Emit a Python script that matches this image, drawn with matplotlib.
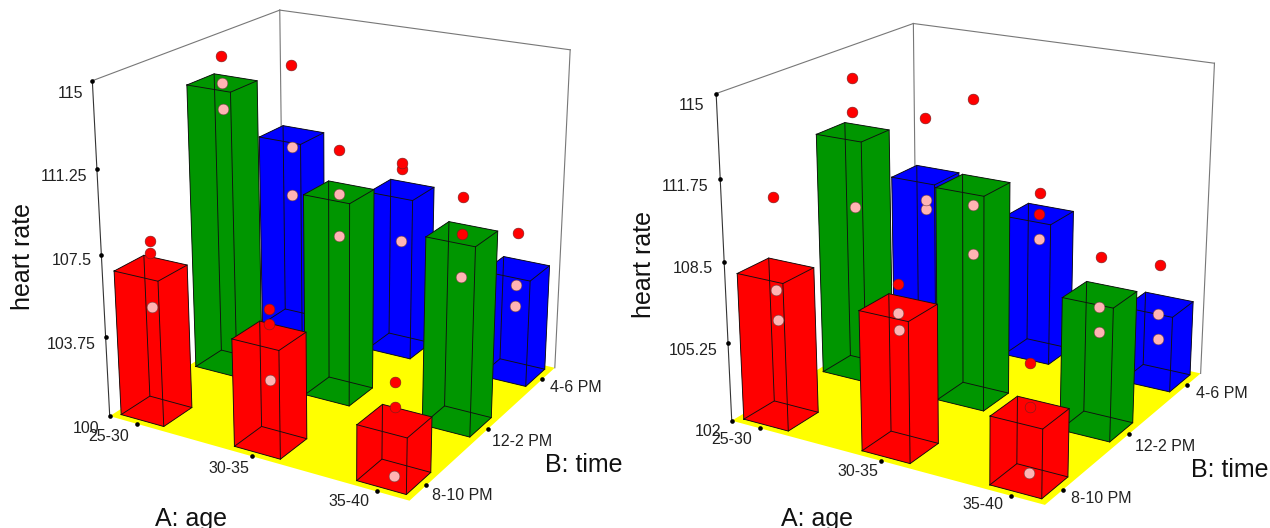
import numpy as np, matplotlib
matplotlib.use('Agg')
import matplotlib.pyplot as plt
from mpl_toolkits.mplot3d.art3d import Poly3DCollection

plt.rcParams['font.family'] = ['Liberation Sans', 'DejaVu Sans']

age_labels = ['25-30', '30-35', '35-40']
time_labels = ['8-10 PM', '12-2 PM', '4-6 PM']

left_ticks = [100, 103.75, 107.5, 111.25, 115]
left_tick_labels = ['100', '103.75', '107.5', '111.25', '115']
left_bars = [[106.7, 113.4, 109.5], [104.9, 109.4, 107.8], [102.5, 108.6, 105.1]]
left_above = [[[107.9, 107.4], [114.6], [112.9]],
              [[106.1, 105.4], [111.3], [109.1, 108.8]],
              [[104.2, 103.1], [110.2, 108.6], [106.8]]]
left_below = [[[104.9], [113.4, 112.2], [108.9, 106.5]],
              [[102.9], [109.3, 107.4], [105.3]],
              [[100.0], [106.7], [104.3, 103.3]]]

right_ticks = [102, 105.25, 108.5, 111.75, 115]
right_tick_labels = ['102', '105.25', '108.5', '111.75', '115']
right_bars = [[108.0, 112.1, 108.9], [107.6, 110.8, 108.1], [104.7, 107.4, 105.2]]
right_above = [[[110.9], [114.3, 112.9], [111.4]],
               [[108.5], [114.2], [109.0, 108.1]],
               [[106.6, 104.9], [108.9], [106.9]]]
right_below = [[[107.2, 106.0], [109.0], [107.8, 107.4]],
               [[107.4, 106.7], [110.0, 108.0], [107.0]],
               [[102.3], [106.9, 105.9], [104.8, 103.7]]]

BAR_COLORS = ['#FF0000', '#009600', '#0000FF']
WA, WB = 0.385, 0.37
XL = (0.75, 3.25)
YL = (0.75, 3.25)
W, H = 1270, 528

fig = plt.figure(figsize=(W / 100, H / 100), dpi=100)


def panel(left, bottom, size, view, bars, above, below, ticks):
    el, az, f, bx, by = view
    ax = fig.add_axes([left / W, bottom / H, size / W, size / H], projection='3d',
                      proj_type='persp', focal_length=f, computed_zorder=False)
    ax.view_init(el, az)
    zl = (ticks[0], ticks[-1])
    ax.set_xlim(*XL); ax.set_ylim(*YL); ax.set_zlim(*zl)
    ax.set_box_aspect((bx, by, 1.0))
    ax.set_axis_off()
    ax.patch.set_alpha(0)
    z0, z1 = zl
    x0, x1 = XL
    y0, y1 = YL
    order = 1
    floor = Poly3DCollection([[(x0, y0, z0), (x1, y0, z0), (x1, y1, z0), (x0, y1, z0)]],
                             facecolors='#FFFF00', edgecolors='none', zorder=order)
    ax.add_collection3d(floor)
    order += 1
    for (xs, ys, zs, c) in [((x0, x0), (y0, y0), (z0, z1), '#333333'),
                            ((x0, x0), (y0, y1), (z1, z1), '#777777'),
                            ((x0, x1), (y1, y1), (z1, z1), '#777777'),
                            ((x0, x0), (y1, y1), (z0, z1), '#777777'),
                            ((x1, x1), (y1, y1), (z0, z1), '#777777')]:
        ax.plot(xs, ys, zs, color=c, lw=0.8, zorder=order)
    order += 1
    ax.scatter([x0] * len(ticks), [y0] * len(ticks), ticks, c='k', s=11, depthshade=False, zorder=order, linewidths=0)
    ax.scatter([1, 2, 3], [y0] * 3, [z0] * 3, c='k', s=11, depthshade=False, zorder=order, linewidths=0)
    ax.scatter([x1] * 3, [1, 2, 3], [z0] * 3, c='k', s=11, depthshade=False, zorder=order, linewidths=0)
    cells = sorted(((a, b) for a in range(3) for b in range(3)),
                   key=lambda c: (c[0] + 1) * 0.5 - (c[1] + 1) * 0.87)
    for a, b in cells:
        order += 1
        h = bars[a][b]
        cx, cy = a + 1, b + 1
        xa, xb = cx - WA / 2, cx + WA / 2
        ya, yb = cy - WB / 2, cy + WB / 2
        ax.bar3d(xa, ya, z0, WA, WB, h - z0, color=BAR_COLORS[b], shade=False, zorder=order, edgecolor='none')
        order += 1
        for px, py in [(xa, ya), (xa, yb), (xb, ya), (xb, yb)]:
            ax.plot([px, px], [py, py], [z0, h], color='#101010', lw=0.65, zorder=order)
        for zz in (z0, h):
            ax.plot([xa, xb, xb, xa, xa], [ya, ya, yb, yb, ya], [zz] * 5, color='#101010', lw=0.65, zorder=order)
        order += 1
        ax.scatter([cx] * len(below[a][b]), [cy] * len(below[a][b]), below[a][b], c='#FFB4B4', s=60,
                   edgecolors='#704040', linewidths=0.4, depthshade=False, zorder=order)
        ax.scatter([cx] * len(above[a][b]), [cy] * len(above[a][b]), above[a][b], c='#FF0000', s=60,
                   edgecolors='#702020', linewidths=0.4, depthshade=False, zorder=order)
    return ax


panel(45.5, 0.79, 571.4, (20.604, -59.851, 0.56, 0.978, 0.948), left_bars, left_above, left_below, left_ticks)
panel(673.65, -13.4, 583.1, (19.376, -59.502, 0.585, 1.055, 1.029), right_bars, right_above, right_below, right_ticks)


def label(x, y, s, size=11.5, rot=0, color='#222222'):
    fig.text(x / W, 1 - y / H, s, fontsize=size, rotation=rot, ha='center', va='center', color=color)


def zl(x, y):
    return x / 2.47, y / 2.97


def zr(x, y):
    return 635 + x / 2.458, y / 2.97


L_Z = [(212, 1272), (175, 1022), (177, 775), (157, 525), (173, 278)]
L_A = [(268, 1295), (566, 1390), (863, 1490)]
L_B = [(1142, 1472), (1290, 1312), (1423, 1152)]
R_Z = [(180, 1283), (142, 1040), (142, 797), (122, 553), (140, 312)]
R_A = [(238, 1305), (548, 1400), (855, 1498)]
R_B = [(1147, 1482), (1302, 1327), (1443, 1170)]
for conv, zp, ap, bp, zt in [(zl, L_Z, L_A, L_B, left_tick_labels), (zr, R_Z, R_A, R_B, right_tick_labels)]:
    for p, s in zip(zp, zt):
        label(*conv(*p), s)
    for p, s in zip(ap, age_labels):
        label(*conv(*p), s)
    for p, s in zip(bp, time_labels):
        label(*conv(*p), s)
label(*zl(58, 762), 'heart rate', size=18, rot=90, color='#111111')
label(*zl(1443, 1382), 'B: time', size=18, color='#111111')
label(*zl(473, 1540), 'A: age', size=18, color='#111111')
label(*zr(22, 785), 'heart rate', size=18, rot=90, color='#111111')
label(*zr(1462, 1397), 'B: time', size=18, color='#111111')
label(*zr(448, 1540), 'A: age', size=18, color='#111111')

fig.savefig('out.png', dpi=100)
